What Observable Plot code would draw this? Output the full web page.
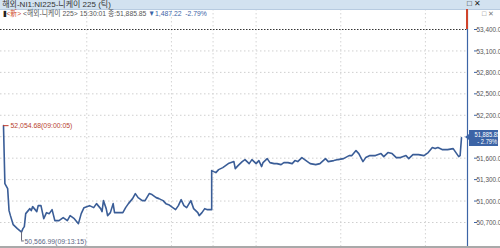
<!DOCTYPE html>
<html><head><meta charset="utf-8">
<script src="https://cdn.jsdelivr.net/npm/d3@7"></script>
<script src="https://cdn.jsdelivr.net/npm/@observablehq/plot@0.6"></script>
<style>
body{margin:0;background:#fff;}
#wrap{position:relative;width:500px;height:248px;overflow:hidden;font-family:"Liberation Sans","Noto Sans CJK KR",sans-serif;}
#wrap svg{position:absolute;left:0;top:0;}
.ov{position:absolute;white-space:nowrap;}
#title{left:0;top:0;width:500px;height:9px;background:#d2e2f0;font-size:8px;line-height:9px;color:#333;border-bottom:1px solid #b7cbe0;}
#hdr{left:3px;top:9px;font-size:8px;line-height:10px;color:#555;transform:scaleX(0.85);transform-origin:left top;}
#box{background:#3c64a6;color:#fff;font-size:7px;line-height:7px;text-align:right;padding:1px 1px 1px 0;width:28px;height:14px;}
#box span{display:inline-block;transform:scaleX(0.82);transform-origin:right center;}
</style></head>
<body><div id="wrap"></div>
<script>
// ---- data ----
const times = ["09:00","09:01","09:03","09:04","09:05","09:07","09:10","09:13","09:14","09:15","09:16","09:19","09:20","09:21","09:24","09:25","09:27","09:29","09:31","09:33","09:35","09:37","09:40","09:43","09:46","09:48","09:51","09:54","09:56","09:58",
"10:02","10:05","10:07","10:10","10:11","10:12","10:14","10:15","10:17","10:19","10:20","10:23","10:26","10:28","10:30","10:33","10:35","10:37","10:40","10:42","10:45","10:47","10:50","10:52","10:55","10:57","10:59",
"11:02","11:04","11:06","11:08","11:10","11:12","11:15","11:17","11:20","11:21","11:23","11:25","11:27","11:30",
"12:30","12:33","12:35","12:38","12:40","12:42","12:46","12:47","12:49","12:52","12:54","12:57","12:59","13:02","13:04","13:06","13:07","13:10","13:12","13:15","13:17","13:20","13:22","13:25","13:28","13:30","13:32","13:35","13:37","13:39","13:41","13:45","13:48","13:52","13:54","13:58",
"14:01","14:05","14:09","14:11","14:14","14:16","14:19","14:21","14:24","14:28","14:32","14:34","14:37","14:40","14:43","14:46","14:50","14:52","14:55","14:59",
"15:03","15:06","15:09","15:11","15:13","15:16","15:20","15:24","15:26","15:28","15:29","15:30"];
const values = [52054.68,51244,51174,50866,50796,50670,50614,50566.99,50614,50642,50824,50894,50866,50922,50852,50936,50936,50754,50838,50824,50880,50726,50726,50768,50726,50796,50754,50684,50824,50908,
50936,50908,50964,50894,50852,51006,50894,50796,50838,50964,50838,50838,50838,50908,50964,51034,51104,51048,51006,51006,51104,51090,51048,51034,51006,50964,50950,
50908,50880,50936,51020,50936,50908,51006,50894,50838,50796,50838,50894,50880,50880,
51426,51398,51440,51468,51496,51524,51552,51454,51496,51552,51580,51524,51580,51524,51566,51482,51538,51594,51538,51524,51524,51510,51538,51538,51524,51566,51552,51608,51580,51552,51524,51510,51524,51594,51552,51566,
51580,51594,51636,51636,51706,51664,51552,51608,51636,51636,51664,51622,51678,51664,51608,51608,51636,51594,51650,51650,
51636,51678,51748,51734,51748,51720,51720,51734,51678,51622,51636,51885.85];
const yTicks = [53400,53100,52800,52500,52200,51900,51600,51300,51000,50700];
const gridTimes = ["10:00","11:01","12:31","13:02","14:03","15:04"];
const highLabel = "52,054.68(09:00:05)";
const lowLabel = "50,566.99(09:13:15)";
const titleText = "해외-NI1:NI225-니케이 225 (틱)";
const lastChange = "- 2.79%";

// trading minute index (lunch 11:30-12:30 removed)
function tm(s){const [h,m]=s.split(":").map(Number);let v=h*60+m-540;if(v>150)v-=60;return v;}
const data = times.map((t,i)=>({t:tm(t), v:values[i]}));
const hi = data[0], lo = data[7], last = data[data.length-1];
const fmt = d3.format(",.2f");
// the 51,900 label sits under the last-value box in the original
const labelTicks = yTicks.filter(d=>Math.abs(d-last.v)>150);

const chart = Plot.plot({
  width:500, height:248,
  marginLeft:0, marginRight:33, marginTop:9, marginBottom:2,
  x:{domain:[0,330], range:[3,461], axis:null},
  y:{domain:[50700,53400], range:[222,29], axis:null},
  style:{fontFamily:'"Liberation Sans","Noto Sans CJK KR",sans-serif', fontSize:"8px", background:"transparent", overflow:"visible"},
  marks:[
    Plot.ruleY(yTicks.filter(d=>d!==53400), {stroke:"#cfcfcf", strokeDasharray:"1.5,2.5"}),
    Plot.ruleX(gridTimes.map(tm), {stroke:"#d4d4d4", strokeDasharray:"1.5,2.5"}),
    Plot.ruleY([53400], {stroke:"#333", strokeDasharray:"1.5,1.5"}),
    Plot.line(data, {x:"t", y:"v", stroke:"#3a5d97", strokeWidth:1.6, curve:"linear"}),
    Plot.ruleX([330], {dx:6, stroke:"#3c64a6", strokeWidth:1.2}),
    Plot.axisY(labelTicks, {anchor:"right", tickSize:3, tickPadding:0, tickFormat:fmt, stroke:"#3c64a6", fill:"#555", fontSize:8, dx:6}),
    Plot.ruleY([hi], {x1:0, x2:4, y:"v", stroke:"#c0392b"}),
    Plot.text([hi], {x:"t", y:"v", text:()=>highLabel, textAnchor:"start", dx:7, fill:"#b8432f", fontSize:8}),
    Plot.ruleX([lo], {x:"t", y1:"v", y2:d=>d.v-125, stroke:"#667"}),
    Plot.ruleY([lo], {x1:"t", x2:d=>d.t+2, y:d=>d.v-125, stroke:"#667"}),
    Plot.text([lo], {x:"t", y:"v", text:()=>lowLabel, textAnchor:"start", dx:3, dy:9.5, fill:"#5b6785", fontSize:8})
  ]
});
const wrap = document.getElementById("wrap");
wrap.appendChild(chart);

// condense the numeric labels like the narrow bitmap font of the original
chart.querySelectorAll("text").forEach(t=>{
  const s = t.textContent;
  const isAxis = /^\d{2},\d{3}\.\d{2}$/.test(s);
  const isAnn = /\(\d\d:\d\d:\d\d\)$/.test(s);
  if (isAxis || isAnn) {
    const k = isAxis ? 0.8 : 0.86;
    const x0 = t.getBBox().x;
    const tr = t.getAttribute("transform") || "";
    t.setAttribute("transform", `${tr} translate(${x0},0) scale(${k},1) translate(${-x0},0)`);
  }
});

const ys = chart.scale("y"), xs = chart.scale("x");
function ov(id, css, html){const d=document.createElement("div");d.className="ov";if(id)d.id=id;d.style.cssText=css;d.innerHTML=html;wrap.appendChild(d);return d;}
ov("title","", '&nbsp;' + titleText + '<span style="position:absolute;left:467px;top:-1px;font-size:8px;color:#222">□ ✕</span>');
ov("hdr","", '<span style="color:#222">▮</span><span style="color:#d04a2a">&lt;新&gt;</span> &lt;해외-니케이 225&gt; 15:30:01 종:' + fmt(last.v) + ' <span style="color:#3c64a6">▼1,487.22 &nbsp;-2.79%</span>');
ov(null,"left:482px;top:10px;font-size:7px;color:#777;line-height:8px", "□ ✕");
// red top segment on axis
const axX = xs.apply(330)+6, top400 = ys.apply(53400);
ov(null, `left:${axX-0.6}px;top:9px;width:1.4px;height:${top400-9}px;background:#d0442c`, "");
// last value box
const ly = ys.apply(last.v);
ov("box", `left:${axX+2}px;top:${ly-7}px`, "<span>" + fmt(last.v) + "</span><br><span>" + lastChange + "</span>");
ov(null, `left:${axX-2}px;top:${ly-3}px;width:0;height:0;border-top:3px solid transparent;border-bottom:3px solid transparent;border-right:4px solid #3c64a6`, "");
// bottom border
ov(null, "left:0;top:246px;width:500px;height:2px;background:#a9a9a9", "");
</script></body></html>
